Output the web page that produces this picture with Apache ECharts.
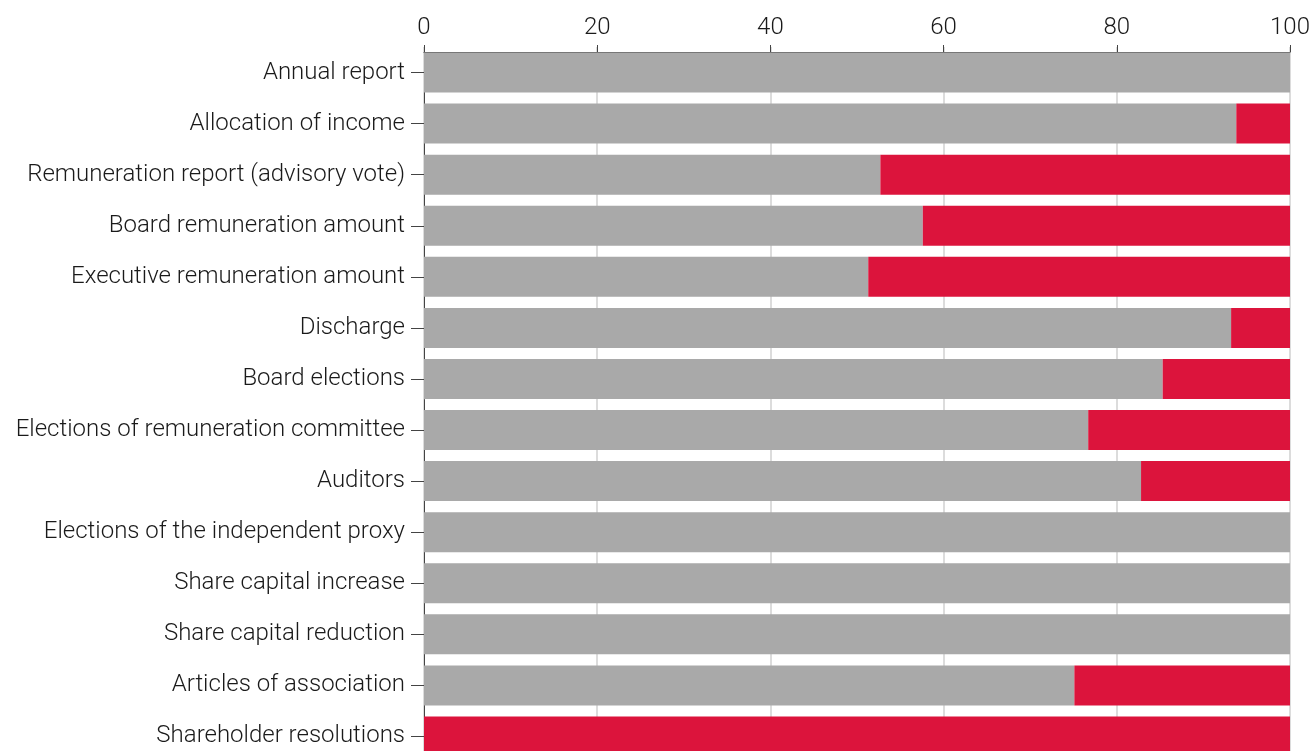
<!DOCTYPE html>
<html>
<head>
<meta charset="utf-8">
<script src="https://cdn.jsdelivr.net/npm/echarts@6/dist/echarts.min.js"></script>
<style>
html, body { margin: 0; padding: 0; background: #fff; }
#chart { width: 1312px; height: 751px; }
</style>
</head>
<body>
<div id="chart"></div>
<script>
const categories = [
    'Annual report',
    'Allocation of income',
    'Remuneration report (advisory vote)',
    'Board remuneration amount',
    'Executive remuneration amount',
    'Discharge',
    'Board elections',
    'Elections of remuneration committee',
    'Auditors',
    'Elections of the independent proxy',
    'Share capital increase',
    'Share capital reduction',
    'Articles of association',
    'Shareholder resolutions'
];
const approved = [100, 93.8, 52.7, 57.6, 51.3, 93.2, 85.3, 76.7, 82.8, 100, 100, 100, 75.1, 0];
const rejected = [0, 6.2, 47.3, 42.4, 48.7, 6.8, 14.7, 23.3, 17.2, 0, 0, 0, 24.9, 100];

let dom = document.getElementById('chart');
let myChart = echarts.init(dom, null, { renderer: 'canvas' });

let option = {
    animation: false,
    grid: { left: 424, top: 47, width: 866, height: 715, outerBoundsMode: 'none' },
    xAxis: {
        type: 'value',
        position: 'top',
        offset: -5,
        min: 0,
        max: 100,
        interval: 20,
        axisLine: { show: true, lineStyle: { color: '#444', width: 1 } },
        axisTick: { show: true, length: 7, lineStyle: { color: '#444' } },
        axisLabel: { color: '#1a1a1a', fontSize: 24, fontFamily: 'Roboto', fontWeight: 300, margin: 12 },
        splitLine: { show: true, lineStyle: { color: '#dcdcdc', width: 2 } }
    },
    yAxis: {
        type: 'category',
        inverse: true,
        data: categories,
        axisLine: { show: true, lineStyle: { color: '#444', width: 1 } },
        axisTick: { show: true, length: 13, alignWithLabel: true, lineStyle: { color: '#444' } },
        axisLabel: { color: '#1a1a1a', fontSize: 24, fontFamily: 'Roboto', fontWeight: 300, margin: 19 }
    },
    series: [
        {
            type: 'bar',
            stack: 'total',
            data: approved,
            barWidth: 40,
            itemStyle: { color: '#a9a9a9' }
        },
        {
            type: 'bar',
            stack: 'total',
            data: rejected,
            barWidth: 40,
            itemStyle: { color: '#dc143c' }
        }
    ]
};

myChart.setOption(option);
window.addEventListener('resize', myChart.resize);
</script>
</body>
</html>
